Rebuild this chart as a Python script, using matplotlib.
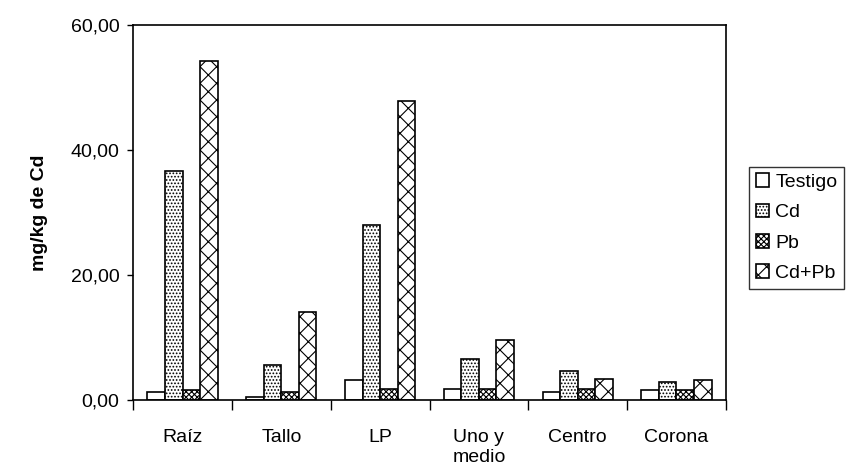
import numpy as np
import matplotlib.pyplot as plt
from matplotlib.ticker import FuncFormatter

plt.rcParams['font.family'] = ['Liberation Sans', 'DejaVu Sans']
plt.rcParams['hatch.linewidth'] = 0.8

# datos
categorias = ['Raíz', 'Tallo', 'LP', 'Uno y\nmedio', 'Centro', 'Corona']
series = ['Testigo', 'Cd', 'Pb', 'Cd+Pb']
testigo = [1.3, 0.45, 3.1, 1.75, 1.3, 1.55]
cd = [36.7, 5.6, 28.0, 6.6, 4.6, 2.8]
pb = [1.55, 1.3, 1.7, 1.75, 1.75, 1.55]
cd_pb = [54.3, 14.1, 47.9, 9.5, 3.35, 3.1]
valores = [testigo, cd, pb, cd_pb]
tramas = ['', '.....', 'xxxxxx', 'xx']

fig = plt.figure(figsize=(8.59, 4.76), dpi=100)
ax = fig.add_axes([0.155, 0.16, 0.69, 0.7875])

x = np.arange(len(categorias))
ancho = 0.178
for i, (nombre, vals, trama) in enumerate(zip(series, valores, tramas)):
    ax.bar(x + (i - 1.5) * ancho, vals, ancho, label=nombre, color='white',
           edgecolor='black', linewidth=1.2, hatch=trama)

ax.set_xlim(-0.5, len(categorias) - 0.5)
ax.set_ylim(0, 60)
ax.set_yticks([0, 20, 40, 60])
ax.yaxis.set_major_formatter(FuncFormatter(lambda v, p: f'{v:.2f}'.replace('.', ',')))
ax.tick_params(axis='y', direction='out', length=4, width=1, pad=6, labelsize=14, colors='black')

ax.set_xticks(x)
ax.set_xticklabels(categorias, fontsize=14, linespacing=1.25)
ax.set_xticks(np.arange(len(categorias) + 1) - 0.5, minor=True)
ax.tick_params(axis='x', which='major', length=0, pad=21)
ax.tick_params(axis='x', which='minor', direction='out', length=7, width=1)

for s in ax.spines.values():
    s.set_linewidth(1.2)

ax.set_ylabel('mg/kg de Cd', fontsize=14, fontweight='bold', labelpad=16)

leg = fig.legend(loc='upper left', bbox_to_anchor=(0.872, 0.65), fontsize=14,
                 frameon=True, fancybox=False, edgecolor='black', handlelength=0.7,
                 handleheight=0.7, handletextpad=0.3, labelspacing=0.65, borderpad=0.35,
                 borderaxespad=0)
leg.get_frame().set_linewidth(1.0)

fig.savefig('out.png', dpi=100)
